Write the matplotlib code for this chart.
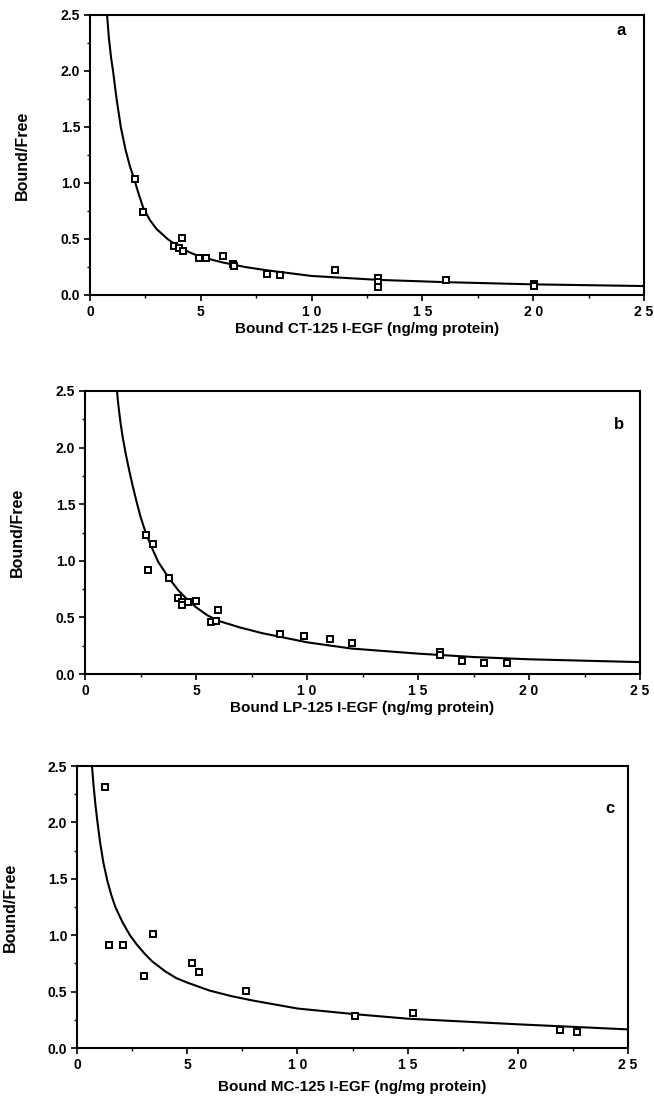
import numpy as np
import matplotlib
matplotlib.use("Agg")
import matplotlib.pyplot as plt
from matplotlib.ticker import MultipleLocator

plt.rcParams['font.family'] = ['Liberation Sans', 'DejaVu Sans']
plt.rcParams['font.weight'] = 'bold'

# panel a - CT
a_x = [2.03, 2.39, 3.78, 4.0, 4.14, 4.19, 4.94, 5.23, 6.0, 6.47, 6.5,
       7.99, 8.57, 11.05, 13.0, 13.0, 13.0, 16.05, 20.04, 20.04]
a_y = [1.04, 0.74, 0.44, 0.42, 0.51, 0.39, 0.33, 0.33, 0.35, 0.28, 0.26,
       0.19, 0.18, 0.22, 0.15, 0.12, 0.07, 0.13, 0.10, 0.08]
a_fit_x = [0.77, 0.85, 0.95, 1.04, 1.2, 1.39, 1.6, 1.8, 2.0, 2.2, 2.4, 2.7,
           3.0, 3.5, 4.0, 4.5, 5.0, 6.0, 7.0, 8.0, 10.0, 13.0, 16.0, 20.0, 25.0]
a_fit_y = [2.5, 2.3, 2.12, 2.0, 1.75, 1.5, 1.3, 1.15, 1.03, 0.9, 0.78, 0.67,
           0.59, 0.5, 0.43, 0.38, 0.34, 0.29, 0.25, 0.22, 0.17, 0.135, 0.115,
           0.095, 0.08]

# panel b - LP
b_x = [2.77, 3.07, 2.83, 3.77, 4.18, 4.37, 4.37, 4.62, 5.01, 5.69, 5.92,
       5.97, 8.78, 9.87, 11.02, 12.02, 15.98, 15.98, 16.97, 17.99, 19.03]
b_y = [1.23, 1.15, 0.92, 0.85, 0.67, 0.64, 0.61, 0.64, 0.645, 0.46, 0.47,
       0.565, 0.35, 0.34, 0.31, 0.275, 0.19, 0.17, 0.115, 0.10, 0.10]
b_fit_x = [1.44, 1.5, 1.6, 1.7, 1.85, 2.0, 2.15, 2.3, 2.5, 2.73, 3.0, 3.3,
           3.77, 4.2, 4.6, 5.0, 5.5, 6.0, 7.0, 8.0, 9.0, 10.0, 12.0, 15.0,
           17.5, 20.0, 25.0]
b_fit_y = [2.5, 2.38, 2.22, 2.09, 1.93, 1.79, 1.66, 1.54, 1.39, 1.25, 1.12,
           0.99, 0.85, 0.74, 0.66, 0.59, 0.52, 0.47, 0.41, 0.36, 0.32, 0.28,
           0.225, 0.18, 0.15, 0.13, 0.105]

# panel c - MC
c_x = [1.28, 1.47, 2.07, 3.46, 3.05, 5.21, 5.55, 7.65, 12.61, 15.26, 21.9, 22.7]
c_y = [2.31, 0.91, 0.91, 1.01, 0.64, 0.75, 0.675, 0.505, 0.28, 0.31, 0.16, 0.145]
c_fit_x = [0.68, 0.75, 0.84, 0.93, 1.05, 1.2, 1.38, 1.55, 1.74, 2.05, 2.4,
           2.7, 3.05, 3.4, 4.0, 4.5, 5.0, 6.0, 7.0, 8.0, 10.0, 12.6, 15.0,
           20.0, 25.0]
c_fit_y = [2.5, 2.33, 2.15, 2.0, 1.82, 1.64, 1.48, 1.36, 1.25, 1.12, 1.0,
           0.92, 0.84, 0.77, 0.68, 0.62, 0.58, 0.51, 0.46, 0.42, 0.35, 0.3,
           0.26, 0.21, 0.165]

xticks = [0, 5, 10, 15, 20, 25]
xtick_labels = ['0', '5', '1 0', '1 5', '2 0', '2 5']
yticks = [0.0, 0.5, 1.0, 1.5, 2.0, 2.5]

panels = [
    (a_x, a_y, a_fit_x, a_fit_y, 'Bound CT-125 I-EGF (ng/mg protein)', 'a',
     [90/654, 1-295/1104, 554/654, 280/1104], (0.958, 0.946), 0.095),
    (b_x, b_y, b_fit_x, b_fit_y, 'Bound LP-125 I-EGF (ng/mg protein)', 'b',
     [85/654, 1-674/1104, 555/654, 283/1104], (0.962, 0.883), 0.094),
    (c_x, c_y, c_fit_x, c_fit_y, 'Bound MC-125 I-EGF (ng/mg protein)', 'c',
     [77/654, 1-1048/1104, 551/654, 282/1104], (0.967, 0.851), 0.112),
]

fig = plt.figure(figsize=(6.54, 11.04), dpi=100)

for px, py, fx, fy, xlab, letter, rect, lpos, xl_off in panels:
    ax = fig.add_axes(rect)
    ax.plot(fx, fy, color='black', lw=1.5, zorder=2, solid_joinstyle='round')
    ax.plot(px, py, 's', ms=4.8, mfc='white', mec='black', mew=1.4,
            zorder=3, clip_on=False)
    ax.set_xlim(0, 25)
    ax.set_ylim(0, 2.5)
    ax.set_xticks(xticks)
    ax.set_xticklabels(xtick_labels)
    ax.set_yticks(yticks)
    ax.set_yticklabels(['%.1f' % v for v in yticks])
    ax.xaxis.set_minor_locator(MultipleLocator(2.5))
    ax.yaxis.set_minor_locator(MultipleLocator(0.25))
    ax.tick_params(which='major', direction='out', length=4, width=1.2,
                   labelsize=10, pad=3, top=False, right=False)
    ax.tick_params(which='minor', direction='out', length=2, width=1,
                   top=False, right=False)
    for s in ax.spines.values():
        s.set_linewidth(1.5)
    ax.set_ylabel('Bound/Free', fontsize=11.5, fontweight='bold')
    ax.yaxis.set_label_coords(-0.108, 0.5)
    ax.set_xlabel(xlab, fontsize=11, fontweight='bold')
    ax.xaxis.set_label_coords(0.5, -xl_off)
    ax.text(lpos[0], lpos[1], letter, transform=ax.transAxes, fontsize=12,
            fontweight='bold', ha='center', va='center')

fig.savefig('out.png', dpi=100)
